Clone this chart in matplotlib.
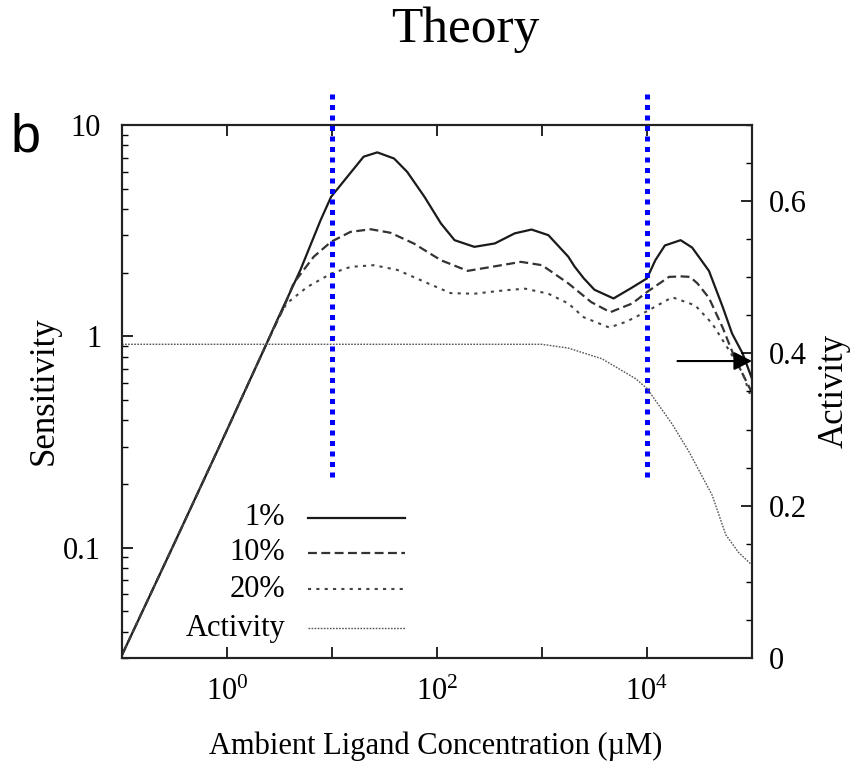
import math
import matplotlib
matplotlib.use("Agg")
import matplotlib.pyplot as plt
from matplotlib.ticker import FixedLocator, FuncFormatter, NullLocator, LogLocator, MultipleLocator, NullFormatter
from matplotlib.lines import Line2D

plt.rcParams['font.family'] = ['Liberation Serif', 'DejaVu Serif']
plt.rcParams['mathtext.fontset'] = 'custom'
plt.rcParams['mathtext.rm'] = 'Liberation Serif'
plt.rcParams['mathtext.default'] = 'regular'

# Ambient ligand concentration (uM) and sensitivity for each noise level
conc_1 = [0.1, 0.316, 1.0, 2.4, 3.0, 5.0, 7.8, 9.8, 14, 20, 27, 39, 52, 76, 109, 147, 227, 355,
          550, 795, 1150, 1780, 2040, 2500, 3160, 4800, 7200, 10000, 12000, 14800, 20900,
          26900, 38900, 52500, 64600, 81300, 100000]
sens_1 = [0.031, 0.105, 0.36, 0.93, 1.19, 2.06, 3.55, 4.57, 5.69, 7.08, 7.42, 6.94, 6.0, 4.57, 3.42, 2.85, 2.65, 2.75,
          3.07, 3.2, 3.01, 2.38, 2.14, 1.88, 1.66, 1.51, 1.70, 1.88, 2.29, 2.69, 2.85,
          2.63, 2.04, 1.38, 1.03, 0.83, 0.63]

conc_10 = [0.1, 0.316, 1.0, 2.4, 3.5, 4.3, 6.7, 9.8, 15, 23.4, 36, 60, 109, 196, 330, 630, 1000,
           1780, 2950, 4470, 7240, 10000, 16200, 21400, 25700, 30200, 38900, 52500, 69200, 100000]
sens_10 = [0.031, 0.105, 0.36, 0.93, 1.38, 1.78, 2.38, 2.8, 3.12, 3.21, 3.09, 2.75, 2.29, 2.04, 2.13, 2.25, 2.17,
           1.78, 1.45, 1.30, 1.43, 1.62, 1.91, 1.92, 1.91, 1.78, 1.52, 1.10, 0.78, 0.54]

conc_20 = [0.1, 0.316, 1.0, 2.4, 3.0, 3.7, 5.8, 9.8, 15, 25, 42, 76, 135, 227, 440, 690, 1150,
           1780, 2500, 4370, 6300, 9330, 17400, 28800, 41700, 60300, 81300, 100000]
sens_20 = [0.031, 0.105, 0.36, 0.93, 1.19, 1.43, 1.71, 1.98, 2.13, 2.17, 2.06, 1.81, 1.60, 1.59, 1.65, 1.68, 1.59,
           1.43, 1.23, 1.10, 1.17, 1.29, 1.53, 1.40, 1.15, 0.86, 0.67, 0.50]

conc_act = [0.1, 1.0, 10, 100, 1000, 1780, 3720, 7760, 10000, 17400, 25100, 41700, 56200, 74100, 100000]
activity = [0.412, 0.412, 0.412, 0.412, 0.412, 0.407, 0.393, 0.367, 0.354, 0.307, 0.271, 0.214, 0.162, 0.139, 0.122]

series_labels = ['1%', '10%', '20%', 'Activity']
marker_conc = [10, 10000]
marker_span = [0.215, 14.7]
arrow_from = 19500
arrow_level = 0.39

fig = plt.figure(figsize=(8.57, 7.68), dpi=100)
ax = fig.add_axes([122 / 857, 1 - 658 / 768, 630 / 857, 533 / 768])
ax2 = ax.twinx()

styles = [
    dict(color='#1a1a1a', lw=1.6, linestyle='-'),
    dict(color='#333333', lw=1.6, linestyle=(0, (4, 2))),
    dict(color='#444444', lw=1.5, linestyle=(0, (1.5, 2.5))),
    dict(color='#555555', lw=1.0, linestyle=(0, (1.2, 1.0))),
]

ax.plot(conc_1, sens_1, solid_joinstyle='round', **styles[0])
ax.plot(conc_10, sens_10, **styles[1])
ax.plot(conc_20, sens_20, **styles[2])
ax2.plot(conc_act, activity, **styles[3])

ax.set_xscale('log')
ax.set_yscale('log')
ax.set_xlim(0.1, 1e5)
ax.set_ylim(0.03, 10)
ax2.set_ylim(0, 0.7)

# decade ticks along x, labelled every two decades
ax.xaxis.set_major_locator(FixedLocator([10.0 ** k for k in range(-1, 6)]))
ax.xaxis.set_minor_locator(NullLocator())
def xfmt(v, pos):
    k = int(round(math.log10(v)))
    return r'$10^{%d}$' % k if k in (0, 2, 4) else ''
ax.xaxis.set_major_formatter(FuncFormatter(xfmt))

ax.yaxis.set_major_locator(FixedLocator([0.1, 1, 10]))
ax.yaxis.set_major_formatter(FuncFormatter(lambda v, p: {0.1: '0.1', 1: '1', 10: '10'}.get(round(v, 3), '')))
ax.yaxis.set_minor_locator(LogLocator(base=10, subs=[2, 3, 4, 5, 6, 7, 8, 9], numticks=20))
ax.yaxis.set_minor_formatter(NullFormatter())

ax2.yaxis.set_major_locator(FixedLocator([0, 0.2, 0.4, 0.6]))
ax2.yaxis.set_major_formatter(FuncFormatter(lambda v, p: '0' if abs(v) < 1e-9 else '%.1f' % v))
ax2.yaxis.set_minor_locator(MultipleLocator(0.05))

ax.tick_params(axis='x', which='major', direction='in', length=8, width=1.2, top=True,
               labelsize=22, pad=14)
ax.tick_params(axis='y', which='major', direction='in', length=8, width=1.2, right=False,
               labelsize=22, pad=15)
ax.tick_params(axis='y', which='minor', direction='in', length=4, width=1.0, right=False)
ax2.tick_params(axis='y', which='major', direction='in', length=8, width=1.2, labelsize=22, pad=12)
ax2.tick_params(axis='y', which='minor', direction='in', length=4, width=1.0)

for a in (ax, ax2):
    for s in a.spines.values():
        s.set_linewidth(1.5)
        s.set_color('#222222')

# vertical markers at the two concentrations of interest
for xc in marker_conc:
    ax.plot([xc, xc], marker_span, color='#0000ff', lw=3.6, linestyle=(0, (1, 1.1)),
            dash_capstyle='butt', clip_on=False, zorder=5)

# arrow pointing to the activity axis
ax2.annotate('', xy=(1e5, arrow_level), xytext=(arrow_from, arrow_level),
             arrowprops=dict(arrowstyle='-|>,head_length=0.55,head_width=0.28', color='black',
                             lw=1.5, mutation_scale=20, shrinkA=0, shrinkB=0),
             annotation_clip=False)

# key: right-aligned labels with line samples to their right
key_rows = [0.263, 0.197, 0.129, 0.056]
for lab, st, yk in zip(series_labels, styles, key_rows):
    ax.text(0.259, yk, lab, transform=ax.transAxes, ha='right', va='center', fontsize=22)
    ax.add_line(Line2D([0.296, 0.449], [yk, yk], transform=ax.transAxes, **st))

ax.text((44 - 122) / 630, (658 - 391) / 533, 'Sensitivity', transform=ax.transAxes,
        rotation=90, ha='center', va='center', fontsize=25)
ax.text((834 - 122) / 630, (658 - 391) / 533, 'Activity', transform=ax.transAxes,
        rotation=90, ha='center', va='center', fontsize=25)
ax.text((436 - 122) / 630, (658 - 746) / 533, 'Ambient Ligand Concentration (\u00b5M)',
        transform=ax.transAxes, ha='center', va='center', fontsize=22)

fig.text(465 / 857, 1 - 30 / 768, 'Theory', ha='center', va='center', fontsize=37)
fig.text(26 / 857, 1 - 152 / 768, 'b', ha='center', va='baseline', fontsize=39,
         family=['Liberation Sans', 'DejaVu Sans'])

fig.savefig('out.png', dpi=100)
